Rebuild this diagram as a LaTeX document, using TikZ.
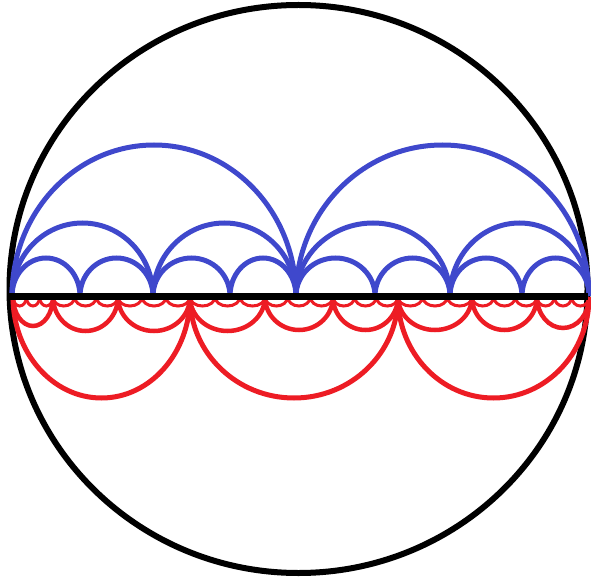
\documentclass[tikz,border=0pt]{standalone}
\definecolor{pblue}{RGB}{63,72,204}
\definecolor{pred}{RGB}{237,28,36}
\tikzset{
  bluearc/.style={draw=pblue,line width=5pt},
  redbig/.style={draw=pred,line width=5pt},
  redmid/.style={draw=pred,line width=4.5pt},
  redsmall/.style={draw=pred,line width=3pt},
}
\begin{document}
\begin{tikzpicture}[x=1pt,y=-1pt]
\useasboundingbox (0,0) rectangle (591,577);
% outer circle
\draw[line width=6pt] (298.5,289) ellipse [x radius=289, y radius=284];
% blue arcs (upper half)
\foreach \a/\b/\d in {12/296/151,296/589/151,
  12/153/73,153/296/73,296/450/73,450/589/73,
  12/80/38,80/153/38,153/230/38,230/296/38,296/375/38,375/450/38,450/522/38,522/589/38}{
  \draw[bluearc] (\a,296) arc[start angle=180,end angle=360,x radius={(\b-\a)/2},y radius=\d];
}
% red big arcs
\foreach \a/\b in {13/190,190/398,398/589}{
  \draw[redbig] (\a,297) arc[start angle=180,end angle=0,x radius={(\b-\a)/2},y radius=101];
}
% red medium and small arcs
\foreach \a/\b/\d in {13/53/29,53/118/34,118/190/34,190/265/34,265/333/33,333/398/33,398/472/33,472/537/33,537/589/31}{
  \draw[redmid] (\a,297) arc[start angle=180,end angle=0,x radius={(\b-\a)/2},y radius=\d];
  \pgfmathsetmacro\w{(\b-\a)/3}
  \foreach \k in {0,1,2}{
    \pgfmathsetmacro\s{\a+\k*\w}
    \draw[redsmall] (\s,297) arc[start angle=180,end angle=0,x radius={\w/2},y radius=9];
  }
}
% diameter
\draw[line width=7pt] (9,296.5) -- (588,296.5);
\end{tikzpicture}
\end{document}
